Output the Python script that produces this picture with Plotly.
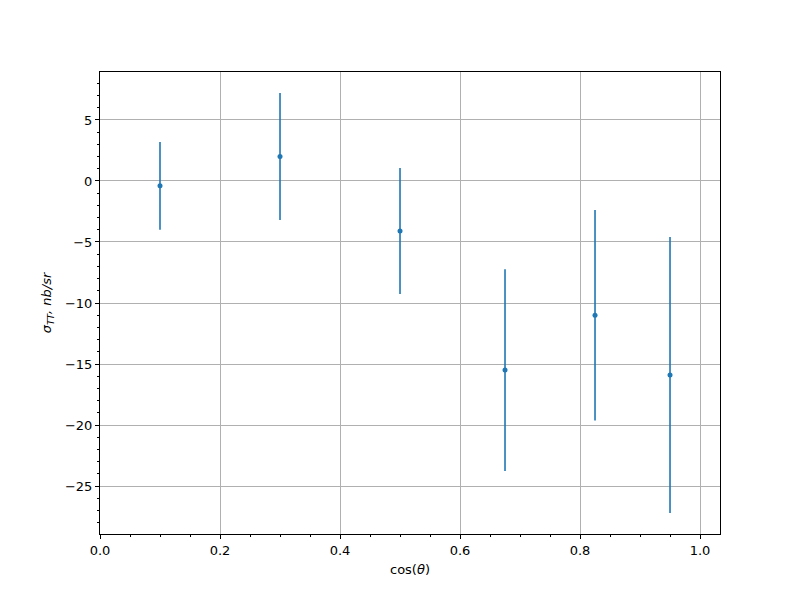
import plotly.graph_objects as go

cos_theta = [0.1, 0.3, 0.5, 0.675, 0.825, 0.95]
sigma_tt = [-0.4, 2.0, -4.1, -15.5, -11.0, -15.9]
sigma_err = [3.6, 5.2, 5.17, 8.27, 8.63, 11.3]

color = "#1f77b4"
fig = go.Figure()
fig.add_trace(go.Scatter(
    x=cos_theta, y=sigma_tt, mode="markers",
    marker=dict(color=color, size=5),
    error_y=dict(type="data", array=sigma_err, visible=True,
                 color=color, thickness=1.6, width=0),
    showlegend=False,
))

font = dict(family="DejaVu Sans", size=13, color="black")
axis_common = dict(
    showline=True, linecolor="black", linewidth=1, mirror=True,
    ticks="outside", ticklen=4, tickwidth=1, tickcolor="black",
    showgrid=True, gridcolor="#b0b0b0", gridwidth=1,
    zeroline=False, tickfont=font,
)
fig.update_layout(
    width=800, height=600,
    margin=dict(l=92, r=88, t=64, b=74),
    paper_bgcolor="white", plot_bgcolor="white",
    font=font,
    xaxis=dict(
        range=[0, 1.0333], tickvals=[0, 0.2, 0.4, 0.6, 0.8, 1.0],
        tickformat=".1f",
        minor=dict(dtick=0.05, tick0=0, ticks="outside", ticklen=2,
                   tickcolor="black", showgrid=False),
        title=dict(text="cos(<i>θ</i>)", font=font, standoff=8),
        **axis_common,
    ),
    yaxis=dict(
        range=[-28.93, 8.93], tickvals=[5, 0, -5, -10, -15, -20, -25],
        minor=dict(dtick=1, tick0=0, ticks="outside", ticklen=2,
                   tickcolor="black", showgrid=False),
        title=dict(text="<i>σ<sub>TT</sub>, nb/sr</i>", font=font, standoff=10),
        **axis_common,
    ),
)
fig.write_html("out.html")
